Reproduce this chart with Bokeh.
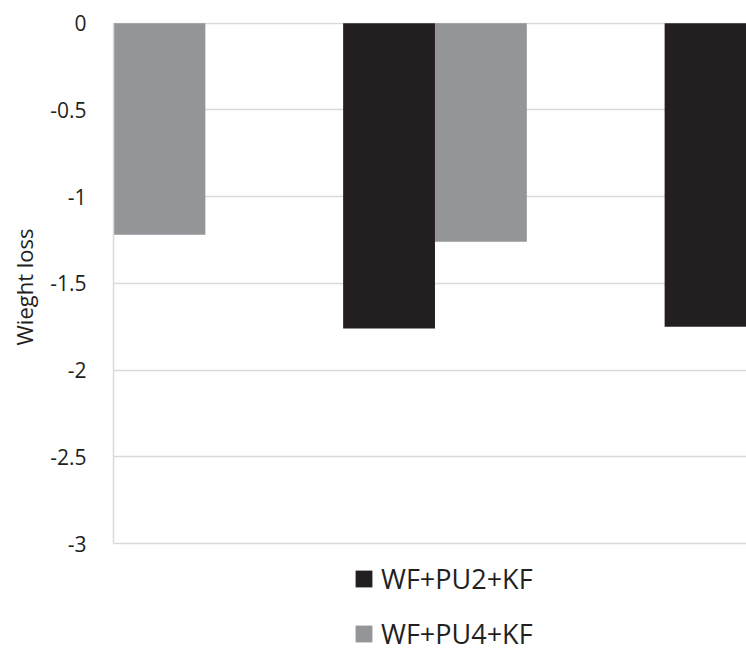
from bokeh.plotting import figure
from bokeh.models import Range1d, FixedTicker, Legend, LegendItem, ColumnDataSource, Title
from bokeh.embed import file_html
from bokeh.resources import INLINE

# ---- data ----
group_pos = [1, 2, 3]
series_names = ["WF+PU2+KF", "WF+PU4+KF"]
pu2_values = [float("nan"), -1.76, -1.75]
pu4_values = [-1.22, -1.26, float("nan")]
y_ticks = [0, -0.5, -1, -1.5, -2, -2.5, -3]
y_tick_labels = ["0", "-0.5", "-1", "-1.5", "-2", "-2.5", "-3"]
y_title = "Wieght loss"

BLACK = "#231f20"
GRAY = "#939598"
GRID = "#d9d9d9"
TEXT = "#231f20"
FONT = "Open Sans"
bar_w = 0.2857

# frame runs to the bottom of the canvas so the legend can sit inside it
p = figure(width=746, height=652, output_backend="svg", toolbar_location=None,
           x_range=Range1d(1.0, 2.969), y_range=Range1d(-3.6276, 0.004),
           min_border_left=111, min_border_top=22, min_border_right=0,
           min_border_bottom=0)
p.outline_line_color = None
p.background_fill_color = "white"
p.border_fill_color = "white"

src2 = ColumnDataSource(dict(x=[g - bar_w / 2 for g in group_pos], top=[0] * 3, bottom=pu2_values))
src4 = ColumnDataSource(dict(x=[g + bar_w / 2 for g in group_pos], top=[0] * 3, bottom=pu4_values))
r2 = p.vbar(x="x", top="top", bottom="bottom", width=bar_w, source=src2,
            fill_color=BLACK, line_color=None)
r4 = p.vbar(x="x", top="top", bottom="bottom", width=bar_w, source=src4,
            fill_color=GRAY, line_color=None)

p.xaxis.visible = False
p.xgrid.visible = False

p.ygrid.ticker = FixedTicker(ticks=y_ticks)
p.ygrid.grid_line_color = GRID
p.ygrid.grid_line_width = 1.5

ya = p.yaxis[0]
ya.bounds = (min(y_ticks), max(y_ticks))
ya.ticker = FixedTicker(ticks=y_ticks)
ya.major_label_overrides = {t: l for t, l in zip(y_ticks, y_tick_labels)}
ya.axis_line_color = GRID
ya.axis_line_width = 1.5
ya.major_tick_line_color = None
ya.minor_tick_line_color = None
ya.major_tick_out = 0
ya.major_tick_in = 0
ya.minor_tick_out = 0
ya.major_label_standoff = 27
ya.major_label_text_font = FONT
ya.major_label_text_font_size = "21px"
ya.major_label_text_color = TEXT

# y-axis title as a left-side Title so it can be centred on the -3..0 span
ytitle = Title(text=y_title, align="right", vertical_align="middle", offset=206,
               standoff=15, text_font=FONT, text_font_size="22px",
               text_font_style="normal", text_color=TEXT)
p.add_layout(ytitle, "left")

legend = Legend(items=[LegendItem(label=series_names[0], renderers=[r2]),
                       LegendItem(label=series_names[1], renderers=[r4])],
                location=(240, 0), orientation="vertical",
                glyph_width=21, glyph_height=21, label_standoff=7,
                label_text_font=FONT, label_text_font_size="27px",
                label_text_color=TEXT, label_height=37,
                spacing=18, padding=0, margin=0,
                border_line_color=None, background_fill_alpha=0)
p.add_layout(legend, "center")

open("out.html", "w").write(file_html(p, INLINE))
